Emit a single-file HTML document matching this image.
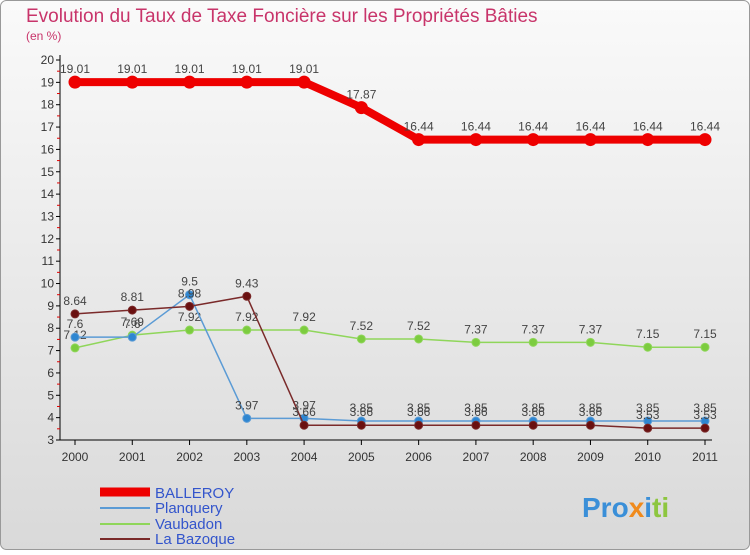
<!DOCTYPE html>
<html><head><meta charset="utf-8"><style>
body{margin:0;width:750px;height:550px;overflow:hidden;font-family:"Liberation Sans",sans-serif}
</style></head><body>
<svg width="750" height="550" xmlns="http://www.w3.org/2000/svg">
<defs><linearGradient id="bg" x1="0" y1="0" x2="0" y2="1"><stop offset="0" stop-color="#fafafa"/><stop offset="1" stop-color="#d9d9d9"/></linearGradient></defs>
<rect x="0.5" y="0.5" width="749" height="549" rx="6" fill="url(#bg)" stroke="#999"/>
<text x="26" y="22" font-size="19" fill="#c8346a">Evolution du Taux de Taxe Foncière sur les Propriétés Bâties</text>
<text x="26" y="40" font-size="12" fill="#c8346a">(en %)</text>
<g id="axes"></g><g id="series"></g>
<g font-size="15" fill="#3355cc">
<line x1="100" y1="492" x2="150" y2="492" stroke="#ee0000" stroke-width="9"/>
<text x="155" y="498">BALLEROY</text>
<line x1="100" y1="508" x2="150" y2="508" stroke="#5b9bd5" stroke-width="2"/>
<text x="155" y="513">Planquery</text>
<line x1="100" y1="524" x2="150" y2="524" stroke="#8fd65a" stroke-width="2"/>
<text x="155" y="529">Vaubadon</text>
<line x1="100" y1="539" x2="150" y2="539" stroke="#7a2a2a" stroke-width="2"/>
<text x="155" y="544">La Bazoque</text>
</g>
<text x="582" y="517" font-size="28" font-weight="bold"><tspan fill="#3a8fd8">Pro</tspan><tspan fill="#f08a1c">x</tspan><tspan fill="#3a8fd8">i</tspan><tspan fill="#8dc63f">ti</tspan></text>
</svg>
<script>
const years=[2000,2001,2002,2003,2004,2005,2006,2007,2008,2009,2010,2011];
const balleroy=[19.01,19.01,19.01,19.01,19.01,17.87,16.44,16.44,16.44,16.44,16.44,16.44];
const planquery=[7.6,7.6,9.5,3.97,3.97,3.85,3.85,3.85,3.85,3.85,3.85,3.85];
const vaubadon=[7.12,7.69,7.92,7.92,7.92,7.52,7.52,7.37,7.37,7.37,7.15,7.15];
const laBazoque=[8.64,8.81,8.98,9.43,3.66,3.66,3.66,3.66,3.66,3.66,3.53,3.53];
const yTicks=[3,4,5,6,7,8,9,10,11,12,13,14,15,16,17,18,19,20];
const NS="http://www.w3.org/2000/svg";
const X=i=>75+i*(630/(years.length-1));
const Y=v=>440-(v-3)*(380/17);
function mk(t,a,p){const e=document.createElementNS(NS,t);for(const k in a)e.setAttribute(k,a[k]);p.appendChild(e);return e;}
const ax=document.getElementById('axes');
let l=mk('line',{x1:60,y1:55,x2:60,y2:440,stroke:'#000'},ax);


l=mk('line',{x1:60,y1:440,x2:712,y2:440,stroke:'#000'},ax);


yTicks.forEach(v=>{
 const y=Y(v);
 mk('line',{x1:56,y1:y,x2:60,y2:y,stroke:'#000'},ax);
 if(v<20) mk('line',{x1:57,y1:y-380/34,x2:60,y2:y-380/34,stroke:'#e00000'},ax);
 const t=mk('text',{x:54,y:y+4,'font-size':12,'text-anchor':'end',fill:'#333'},ax);
 t.textContent=v;
 
 
});
years.forEach((yr,i)=>{
 mk('line',{x1:X(i),y1:440,x2:X(i),y2:445,stroke:'#000'},ax);
 const t=mk('text',{x:X(i),y:461,'font-size':12,'text-anchor':'middle',fill:'#333'},ax);
 t.textContent=yr;
 
 
});
const sg=document.getElementById('series');
function series(vals,color,w,r,name,fill){
 const p=mk('polyline',{points:vals.map((v,i)=>X(i)+','+Y(v)).join(' '),fill:'none',stroke:color,'stroke-width':w},sg);
 
 
 vals.forEach((v,i)=>{
  const c=mk('circle',{cx:X(i),cy:Y(v),r:r,fill:fill,stroke:color,'stroke-width':1},sg);
  
  
  const t=mk('text',{x:X(i),y:Y(v)-9,'font-size':12,'text-anchor':'middle',fill:'#444'},sg);
  t.textContent=v;
  
  
 });
}
series(vaubadon,'#8fd65a',1.5,4,'vaubadon','#7ccc3f');
series(planquery,'#5b9bd5',1.5,4,'planquery','#2e86d1');
series(laBazoque,'#7a2a2a',1.5,4,'la-bazoque','#6a1010');
series(balleroy,'#ee0000',8,6,'balleroy','#ee0000');
</script>
</body></html>
